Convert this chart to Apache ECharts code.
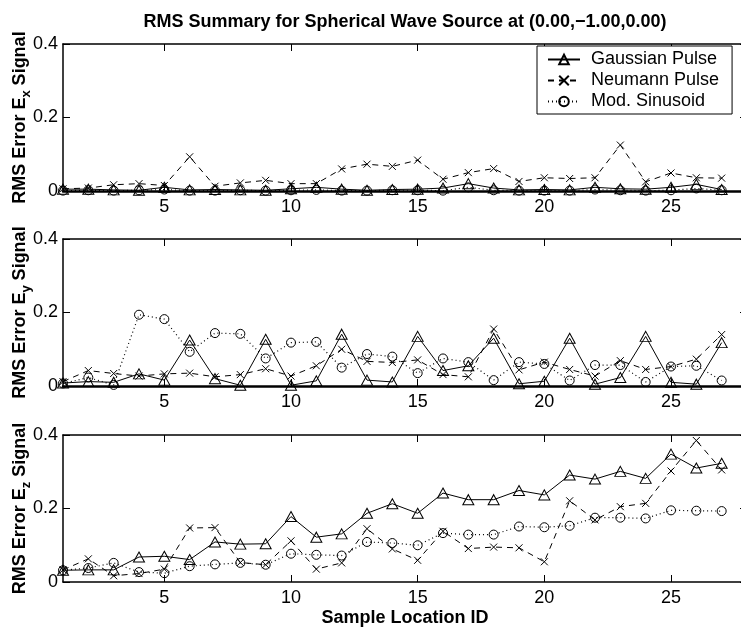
<!doctype html>
<html>
<head>
<meta charset="UTF-8">
<title>RMS Summary for Spherical Wave Source</title>
<script src="https://cdn.jsdelivr.net/npm/echarts@6/dist/echarts.min.js"></script>
<style>
html,body{margin:0;padding:0;background:#fff}
#main{width:741px;height:629px}
</style>
</head>
<body>
<div id="main"></div>
<script>
// sample locations and tick labels
var sampleIds = [1,2,3,4,5,6,7,8,9,10,11,12,13,14,15,16,17,18,19,20,21,22,23,24,25,26,27];
var xTickValues = [5,10,15,20,25];

// E_x panel
var gaussEx = [0.005,0.005,0.003,0.002,0.010,0.003,0.004,0.003,0.002,0.006,0.010,0.005,0.002,0.004,0.005,0.008,0.020,0.008,0.003,0.004,0.003,0.010,0.006,0.005,0.010,0.018,0.004];
var neumEx  = [0.006,0.008,0.017,0.020,0.015,0.093,0.013,0.022,0.029,0.020,0.020,0.060,0.073,0.067,0.084,0.032,0.050,0.061,0.026,0.036,0.034,0.036,0.125,0.025,0.049,0.036,0.035];
var sinEx   = [0.001,0.002,0.001,0.002,0.004,0.001,0.001,0.002,0.001,0.002,0.003,0.001,0.001,0.002,0.002,0.001,0.010,0.002,0.001,0.001,0.001,0.004,0.002,0.001,0.002,0.007,0.002];

// E_y panel
var gaussEy = [0.008,0.012,0.010,0.033,0.016,0.125,0.020,0.002,0.127,0.002,0.014,0.141,0.016,0.011,0.135,0.042,0.055,0.130,0.006,0.013,0.130,0.005,0.023,0.135,0.010,0.005,0.118];
var neumEy  = [0.012,0.042,0.034,0.027,0.033,0.035,0.025,0.031,0.047,0.027,0.055,0.100,0.067,0.064,0.071,0.031,0.025,0.155,0.044,0.065,0.045,0.027,0.069,0.045,0.053,0.073,0.140];
var sinEy   = [0.007,0.023,0.003,0.194,0.182,0.093,0.144,0.142,0.075,0.118,0.120,0.050,0.087,0.080,0.035,0.075,0.065,0.016,0.065,0.060,0.015,0.057,0.057,0.011,0.053,0.055,0.015];

// E_z panel
var gaussEz = [0.032,0.033,0.033,0.068,0.070,0.061,0.109,0.103,0.104,0.178,0.122,0.131,0.187,0.213,0.187,0.242,0.224,0.224,0.249,0.237,0.291,0.280,0.301,0.282,0.348,0.310,0.323];
var neumEz  = [0.033,0.063,0.017,0.023,0.035,0.147,0.148,0.053,0.047,0.112,0.035,0.052,0.145,0.090,0.059,0.138,0.091,0.095,0.093,0.055,0.221,0.169,0.205,0.214,0.302,0.385,0.305];
var sinEz   = [0.032,0.038,0.052,0.027,0.024,0.043,0.048,0.052,0.047,0.077,0.074,0.072,0.109,0.106,0.100,0.133,0.129,0.129,0.151,0.149,0.153,0.175,0.175,0.173,0.195,0.194,0.193];

var seriesNames = ['Gaussian Pulse','Neumann Pulse','Mod. Sinusoid'];
var components = ['x','y','z'];

var panelData = [
    [gaussEx, neumEx, sinEx],
    [gaussEy, neumEy, sinEy],
    [gaussEz, neumEz, sinEz]
];

var FONT = '"Liberation Sans", Arial, Helvetica, sans-serif';
var gridTops = [44, 239, 435];
var bottomWidths = [2.5, 2.5, 1.5];

function pairs(vals) {
    return sampleIds.map(function (id, i) { return [id, vals[i]]; });
}

var lineStyles = [
    { type: 'solid', width: 1 },
    { type: [6, 5], width: 1 },
    { type: [1, 3], width: 1.2 }
];
var symbols = ['triangle', 'path://M0,0L10,10M10,0L0,10', 'circle'];
var symbolSizes = [[11, 10], 7, 9];

var grids = [], xAxes = [], yAxes = [], series = [];

for (var p = 0; p < 3; p++) {
    grids.push({ left: 63, top: gridTops[p], width: 684, height: 147, outerBoundsMode: 'none', containLabel: false });

    // bottom axis with labels
    xAxes.push({
        type: 'value', gridIndex: p, min: 1, max: 28, position: 'bottom',
        name: p === 2 ? 'Sample Location ID' : '',
        nameLocation: 'middle', nameGap: 27, nameMoveOverlap: false,
        nameTextStyle: { fontFamily: FONT, fontSize: 18, fontWeight: 'bold', color: '#000' },
        axisLine: { show: true, onZero: false, lineStyle: { color: '#000', width: bottomWidths[p] } },
        axisTick: { show: true, inside: true, length: 7, customValues: xTickValues, lineStyle: { color: '#000' } },
        axisLabel: { show: true, customValues: xTickValues, margin: 7, fontFamily: FONT, fontSize: 18, color: '#000' },
        splitLine: { show: false }
    });
    // top box edge
    xAxes.push({
        type: 'value', gridIndex: p, min: 1, max: 28, position: 'top',
        axisLine: { show: true, onZero: false, lineStyle: { color: '#000', width: 1.5 } },
        axisTick: { show: true, inside: true, length: 7, customValues: xTickValues, lineStyle: { color: '#000' } },
        axisLabel: { show: false },
        splitLine: { show: false }
    });

    yAxes.push({
        type: 'value', gridIndex: p, min: 0, max: 0.4, interval: 0.2, position: 'left',
        name: '{a|RMS Error E}{s|' + components[p] + '}{a| Signal}',
        nameLocation: 'middle', nameGap: 30, nameRotate: 90, nameMoveOverlap: false,
        nameTextStyle: {
            fontFamily: FONT, fontSize: 18, fontWeight: 'bold', color: '#000',
            rich: {
                a: { fontFamily: FONT, fontSize: 18, fontWeight: 'bold', color: '#000' },
                s: { fontFamily: FONT, fontSize: 13, fontWeight: 'bold', color: '#000', padding: [12, 0, 0, 0] }
            }
        },
        axisLine: { show: true, lineStyle: { color: '#000', width: 1.5 } },
        axisTick: { show: true, inside: true, length: 7, lineStyle: { color: '#000' } },
        axisLabel: { margin: 5, fontFamily: FONT, fontSize: 18, color: '#000' },
        splitLine: { show: false }
    });
    yAxes.push({
        type: 'value', gridIndex: p, min: 0, max: 0.4, interval: 0.2, position: 'right',
        axisLine: { show: true, lineStyle: { color: '#000', width: 1.5 } },
        axisTick: { show: true, inside: true, length: 7, lineStyle: { color: '#000' } },
        axisLabel: { show: false },
        splitLine: { show: false }
    });

    for (var s = 0; s < 3; s++) {
        series.push({
            name: seriesNames[s],
            type: 'line',
            xAxisIndex: 2 * p,
            yAxisIndex: 2 * p,
            data: pairs(panelData[p][s]),
            symbol: symbols[s],
            symbolSize: symbolSizes[s],
            showAllSymbol: true,
            lineStyle: { color: '#000', type: lineStyles[s].type, width: lineStyles[s].width },
            itemStyle: { color: 'rgba(0,0,0,0)', borderColor: '#000', borderWidth: 1 },
            emphasis: { disabled: true },
            z: 3 - s
        });
    }
}

var myChart = echarts.init(document.getElementById('main'));
var option = {
    backgroundColor: '#fff',
    animation: false,
    title: {
        text: 'RMS Summary for Spherical Wave Source at (0.00,\u22121.00,0.00)',
        left: 405, top: 13, textAlign: 'center', padding: 0,
        textStyle: { fontFamily: FONT, fontSize: 18, fontWeight: 'bold', color: '#000' }
    },
    legend: {
        data: seriesNames,
        orient: 'vertical',
        left: 537, top: 46,
        padding: [3, 13, 2, 10],
        itemWidth: 32, itemHeight: 12, itemGap: 0,
        backgroundColor: '#fff',
        borderColor: '#000', borderWidth: 1, borderRadius: 0,
        textStyle: { fontFamily: FONT, fontSize: 18, color: '#000', lineHeight: 21, padding: [0, 0, 0, 6] }
    },
    grid: grids,
    xAxis: xAxes,
    yAxis: yAxes,
    series: series
};
myChart.setOption(option);
</script>
</body>
</html>
